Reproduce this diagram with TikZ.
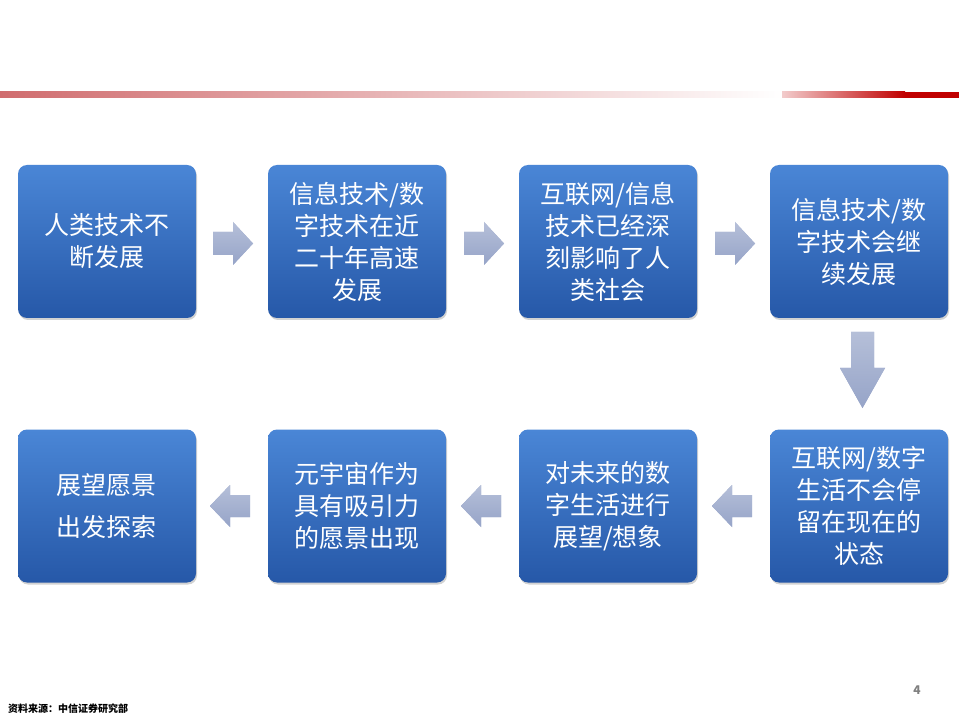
\documentclass[tikz,border=0pt]{standalone}
\usepackage{fontspec}
\setmainfont{Noto Sans CJK SC}
\usetikzlibrary{shadows}
\definecolor{btop}{RGB}{74,134,214}
\definecolor{bbot}{RGB}{38,88,168}
\definecolor{agray}{RGB}{150,164,200}
\definecolor{redA}{RGB}{208,108,110}
\definecolor{redB}{RGB}{192,0,0}
\tikzset{
  box/.style={rounded corners=9pt,top color=btop,bottom color=bbot,minimum width=178pt,minimum height=153pt,
    text=white,font=\fontsize{25pt}{32pt}\selectfont,align=center,text width=176pt,inner sep=0pt,
    drop shadow={shadow xshift=1pt,shadow yshift=-2pt,opacity=0.35}},
  arr/.style={fill=agray,draw=none,top color=agray!70,bottom color=agray}
}
\begin{document}
\begin{tikzpicture}[x=1pt,y=-1pt]
\useasboundingbox (0,0) rectangle (959,719);
\fill[white] (0,0) rectangle (959,719);
\shade[left color=redA,right color=white] (0,92) rectangle (782,98);
\shade[left color=white!80!redB,right color=redB] (782,92) rectangle (905,98);
\fill[redB] (905,92) rectangle (959,98);
\node[box] (a1) at (107,241.5) {人类技术不\\断发展};
\node[box] (a2) at (357,241.5) {信息技术/数\\字技术在近\\二十年高速\\发展};
\node[box] (a3) at (608,241.5) {互联网/信息\\技术已经深\\刻影响了人\\类社会};
\node[box] (a4) at (859,241.5) {信息技术/数\\字技术会继\\续发展};
\node[box] (b4) at (859,506) {互联网/数字\\生活不会停\\留在现在的\\状态};
\node[box] (b3) at (608,506) {对未来的数\\字生活进行\\展望/想象};
\node[box] (b2) at (357,506) {元宇宙作为\\具有吸引力\\的愿景出现};
\node[box,font=\fontsize{25pt}{42pt}\selectfont] (b1) at (107,506) {展望愿景\\出发探索};
\foreach \x in {213,464,715}{
  \path[arr] (\x,232) -- (\x+20,232) -- (\x+20,222) -- (\x+40,243.5) -- (\x+20,265) -- (\x+20,255) -- (\x,255) -- cycle;}
\path[arr] (851,332) -- (874,332) -- (874,368) -- (885,368) -- (862.5,408) -- (840,368) -- (851,368) -- cycle;
\foreach \x in {250,501,752}{
  \path[arr] (\x,495) -- (\x-20,495) -- (\x-20,485) -- (\x-40,506) -- (\x-20,527) -- (\x-20,517) -- (\x,517) -- cycle;}
\node[anchor=west,font=\fontsize{10pt}{12pt}\selectfont\bfseries,inner sep=0pt] (src) at (8,709) {资料来源：中信证券研究部};
\node[font=\fontsize{12pt}{14pt}\selectfont\bfseries,text=gray,inner sep=0pt] (pg) at (917,690) {4};
\end{tikzpicture}
\end{document}
